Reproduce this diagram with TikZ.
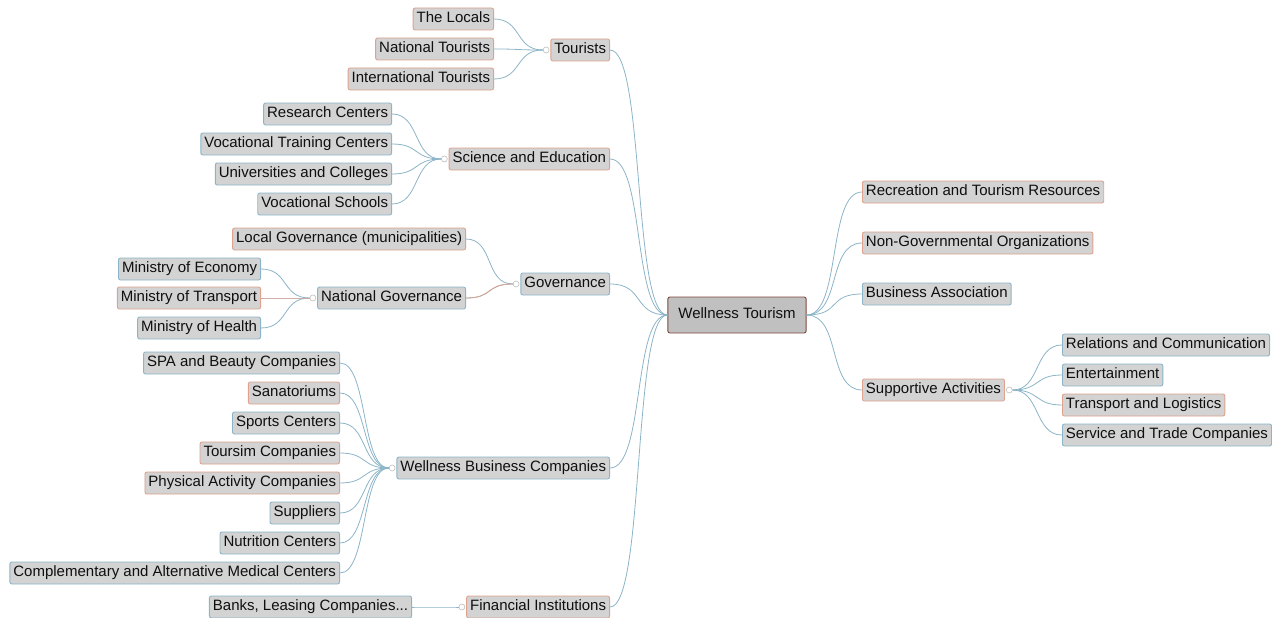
\documentclass[tikz,border=0pt]{standalone}
\usepackage{fontspec}
\setmainfont{Liberation Sans}
\usetikzlibrary{calc,positioning}
\usepackage{xcolor}
\definecolor{BoxFill}{RGB}{211,211,211}
\definecolor{RootFill}{RGB}{192,192,192}
\definecolor{RootLine}{RGB}{125,72,60}
\definecolor{BlueLine}{RGB}{140,180,200}
\definecolor{SalmonLine}{RGB}{222,162,142}
\definecolor{TextColor}{RGB}{15,15,15}
\newcommand{\LeftX}{610}
\newcommand{\RightX}{862}
\newcommand{\PlaceLeaves}[4]{%
  % #1 prefix, #2 edge x, #3 anchor, #4 list of y/label/border
  \foreach \y/\txt/\bord [count=\i] in {#4}{%
    \node[leaf,\bord,anchor=#3] (#1\i) at (#2,\y) {\txt};
  }%
}
\newcommand{\LinkLeft}[3]{%
  % #1 prefix, #2 count, #3 target on the right
  \foreach \i in {1,...,#2}{%
    \draw[link] (#1\i.east) .. controls +(28,0) and +(-28,0) .. (#3.west);
  }%
}
\newcommand{\LinkRight}[3]{%
  % #1 prefix, #2 count, #3 source on the left
  \foreach \i in {1,...,#2}{%
    \draw[link] (#3.east) .. controls +(28,0) and +(-28,0) .. (#1\i.west);
  }%
}

\begin{document}
\begin{tikzpicture}[
  x=1pt,y=-1pt,
  font=\fontsize{15}{17}\selectfont,
  leaf/.style={rectangle,rounded corners=2pt,fill=BoxFill,line width=0.9pt,
    text=TextColor,text height=11pt,text depth=3.5pt,minimum height=22pt,
    inner xsep=3.5pt,inner ysep=2pt},
  bluebox/.style={draw=BlueLine},
  salmonbox/.style={draw=SalmonLine},
  root/.style={rectangle,rounded corners=2pt,fill=RootFill,draw=RootLine,line width=0.9pt,
    text=TextColor,text height=11pt,text depth=3.5pt,minimum height=36pt,inner xsep=10.5pt},
  link/.style={draw=BlueLine,line width=0.8pt},
  salmonlink/.style={draw=SalmonLine},
  knob/.style={circle,draw=black!25,fill=white,line width=0.6pt,minimum size=6pt,inner sep=0pt}
]
\useasboundingbox (0,0) rectangle (1280,618);

% Central topic
\node[root] (wt) at (737,315) {Wellness Tourism};

% Main branches, left side
\node[leaf,salmonbox,anchor=east] (tour) at (\LeftX,50) {Tourists};
\node[leaf,salmonbox,anchor=east] (sci) at (\LeftX,159) {Science and Education};
\node[leaf,bluebox,anchor=east] (gov) at (\LeftX,284) {Governance};
\node[leaf,bluebox,anchor=east] (wbc) at (\LeftX,468) {Wellness Business Companies};
\node[leaf,salmonbox,anchor=east] (fin) at (\LeftX,607) {Financial Institutions};

% Main branches, right side
\node[leaf,salmonbox,anchor=west] (rec) at (\RightX,192) {Recreation and Tourism Resources};
\node[leaf,salmonbox,anchor=west] (ngo) at (\RightX,243) {Non-Governmental Organizations};
\node[leaf,bluebox,anchor=west] (bus) at (\RightX,294) {Business Association};
\node[leaf,salmonbox,anchor=west] (sup) at (\RightX,390) {Supportive Activities};

% Sub-topics
\PlaceLeaves{T}{494}{east}{19/The Locals/salmonbox,49/National Tourists/salmonbox,
  79/International Tourists/salmonbox}
\PlaceLeaves{S}{392}{east}{114/Research Centers/bluebox,144/Vocational Training Centers/bluebox,
  174/Universities and Colleges/bluebox,204/Vocational Schools/bluebox}
\PlaceLeaves{G}{466}{east}{239/Local Governance (municipalities)/salmonbox,298/National Governance/bluebox}
\PlaceLeaves{N}{261}{east}{269/Ministry of Economy/bluebox,298/Ministry of Transport/salmonbox,
  328/Ministry of Health/bluebox}
\PlaceLeaves{W}{340}{east}{363/SPA and Beauty Companies/bluebox,393/Sanatoriums/salmonbox,
  423/Sports Centers/bluebox,453/Toursim Companies/salmonbox,
  483/Physical Activity Companies/salmonbox,513/Suppliers/bluebox,
  543/Nutrition Centers/bluebox,573/Complementary and Alternative Medical Centers/bluebox}
\PlaceLeaves{F}{412}{east}{607/{Banks, Leasing Companies...}/bluebox}
\PlaceLeaves{R}{1062}{west}{345/Relations and Communication/bluebox,375/Entertainment/bluebox,
  405/Transport and Logistics/salmonbox,435/Service and Trade Companies/bluebox}

% Collapse knobs
\node[knob,left=1pt of tour] (tourk) {};
\node[knob,left=1pt of sci] (scik) {};
\node[knob,left=1pt of gov] (govk) {};
\node[knob,left=1pt of G2] (natk) {};
\node[knob,left=1pt of wbc] (wbck) {};
\node[knob,left=1pt of fin] (fink) {};
\node[knob,right=1pt of sup] (supk) {};

% Branches to the central topic
\foreach \n in {tour,sci,gov,wbc,fin}{%
  \draw[link] (\n.east) .. controls +(35,0) and +(-35,0) .. (wt.west);
}
\foreach \n in {rec,ngo,bus,sup}{%
  \draw[link] (wt.east) .. controls +(35,0) and +(-35,0) .. (\n.west);
}

% Sub-topic links
\LinkLeft{T}{3}{tourk}
\LinkLeft{S}{4}{scik}
\LinkLeft{G}{2}{govk}
\LinkLeft{N}{3}{natk}
\LinkLeft{W}{8}{wbck}
\LinkLeft{F}{1}{fink}
\LinkRight{R}{4}{supk}

% Highlighted links
\draw[link,salmonlink] (N2.east) .. controls +(28,0) and +(-28,0) .. (natk.west);
\draw[link,salmonlink] (G2.east) .. controls +(28,0) and +(-28,0) .. (govk.west);

\end{tikzpicture}
\end{document}
